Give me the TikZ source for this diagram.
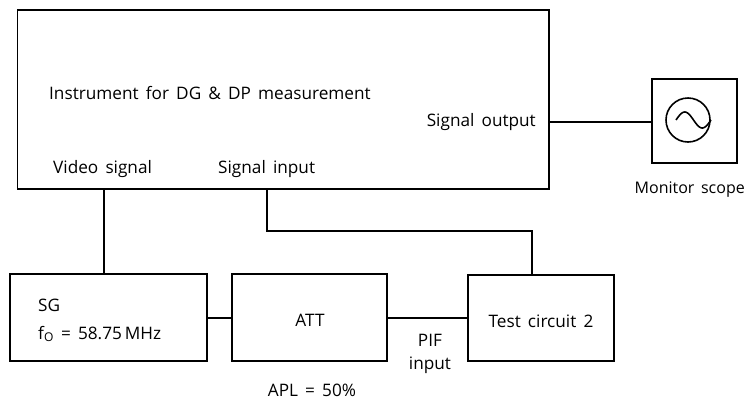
\documentclass[tikz,border=0pt]{standalone}
\usepackage{fontspec}
\setmainfont{Open Sans}[WordSpace=1.6]
\begin{document}
\begin{tikzpicture}[x=1pt,y=-1pt,
  blk/.style={draw,line width=1.9pt,inner sep=0pt},
  wire/.style={line width=1.9pt},
  lbl/.style={font=\fontsize{17.2}{19}\selectfont,inner sep=0pt}]
\useasboundingbox (0,0) rectangle (747,402);
% main instrument
\node[blk,minimum width=531.5pt,minimum height=179pt] (inst) at (283.25,99.5) {};
\node[lbl,anchor=west] (title) at (49,93) {Instrument for DG \& DP measurement};
\node[lbl,anchor=east] (sout) at (536,122) {Signal output};
\node[lbl,anchor=west] (vsig) at (53,169) {Video signal};
\node[lbl,anchor=west] (sin) at (218,169) {Signal input};
% monitor scope
\node[blk,minimum width=85pt,minimum height=84pt] (scope) at (694.5,121) {};
\node[draw,circle,line width=1.6pt,minimum size=44pt,inner sep=0pt] (scr) at (688,120) {};
\draw[line width=1.6pt,domain=0:360,samples=40,smooth] plot ({676+\x/360*35},{120-8*sin(\x)});
\node[lbl,anchor=east,font=\fontsize{16}{18}\selectfont] (mon) at (745,190) {Monitor scope};
% lower blocks
\node[blk,minimum width=197pt,minimum height=87pt] (sg) at (108.5,317.5) {};
\node[lbl,anchor=west] (sgt) at (38,305) {SG};
\node[lbl,anchor=west] (fo) at (38,334) {f\textsubscript{O} = 58.75\,MHz};
\node[blk,minimum width=155pt,minimum height=87pt] (att) at (309.5,317.5) {};
\node[lbl] (attt) at (310,320) {ATT};
\node[blk,minimum width=146pt,minimum height=86pt] (tc) at (541,318) {};
\node[lbl] (tct) at (541,321) {Test circuit 2};
\node[lbl] (pif) at (430,340) {PIF};
\node[lbl] (pin) at (430,365) {input};
\node[lbl] (apl) at (312,390) {APL = 50\%};
% connectors
\coordinate (a1) at (267,231);
\coordinate (a2) at (532,231);
\draw[wire] (inst.east |- 0,122) -- (scope.west |- 0,122);
\draw[wire] (104,189) coordinate (v1) -- (v1 |- sg.north);
\draw[wire] (a1 |- inst.south) -- (a1) -- (a2) -- (a2 |- tc.north);
\draw[wire] (sg.east |- 0,318) -- (att.west |- 0,318);
\draw[wire] (att.east |- 0,318) -- (tc.west |- 0,318);
\end{tikzpicture}
\end{document}
